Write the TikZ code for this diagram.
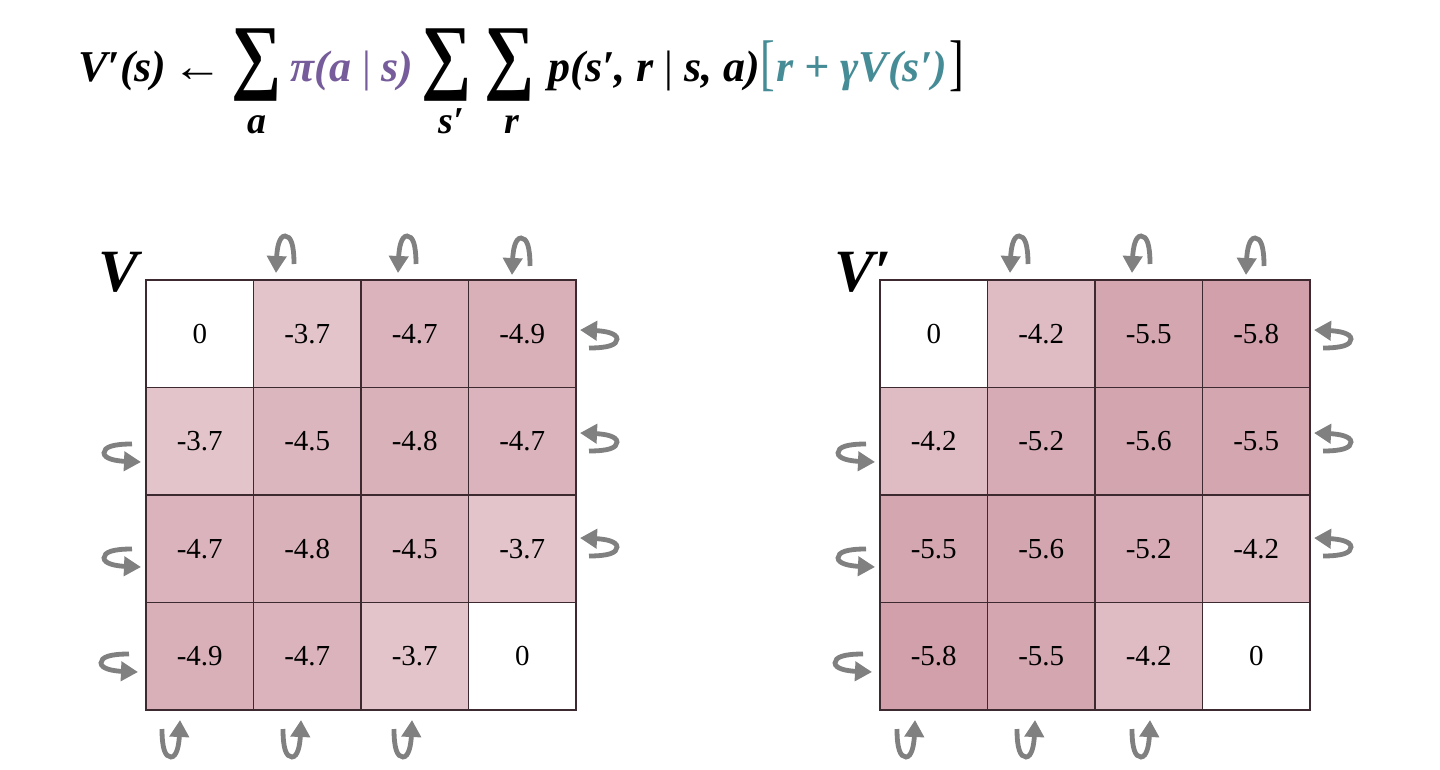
\documentclass[tikz,border=0pt]{standalone}
\usepackage{fontspec}
\setmainfont{Liberation Serif}
\usepackage{graphicx}
\usetikzlibrary{arrows.meta, positioning}

\definecolor{cellpink}{RGB}{190,120,135}
\definecolor{gridline}{RGB}{60,42,48}
\definecolor{arrowgray}{RGB}{128,128,128}
\definecolor{eqpurple}{RGB}{118,92,155}
\definecolor{eqteal}{RGB}{70,140,150}

\begin{document}
\begin{tikzpicture}[
    x=0.5pt, y=-0.5pt,
    eq/.style={
        font=\fontsize{22}{26}\selectfont\bfseries\itshape,
        inner sep=0pt,
        anchor=base west
    },
    sub/.style={
        font=\fontsize{19}{22}\selectfont\bfseries\itshape,
        inner sep=0pt,
        anchor=base
    },
    sumsym/.style={
        font=\fontsize{44}{44}\selectfont\bfseries,
        inner sep=0pt
    },
    title/.style={
        font=\fontsize{30}{32}\selectfont\bfseries\itshape,
        inner sep=0pt,
        anchor=base west
    },
    cell/.style={
        draw=gridline,
        line width=0.7pt,
        minimum size=53.75pt,
        inner sep=0pt,
        font=\fontsize{14.5}{16}\selectfont
    },
    bounceline/.style={
        draw=arrowgray,
        line width=2.4pt,
        -{Triangle[width=9.5pt,length=8.5pt]}
    },
    bounce/.pic={
        \draw[bounceline] (18,-9) .. controls (18,-28) and (15,-37) .. (9,-37)
            .. controls (3,-37) and (1,-24) .. (0,0);
    }
]
\fill[white] (0,0) rectangle (1440,770);
\useasboundingbox (0,0) rectangle (1440,770);

% Update rule
\node[eq] (lhs) at (78,82) {V′(s)};
\node[eq] (assign) at (172,82) {\scalebox{1.15}[1]{←}};
\node[sumsym] (sumA) at (257,65) {\scalebox{0.8}[0.95]{∑}};
\node[sub] (subA) at (257,134) {a};
\node[eq, text=eqpurple] (policy) at (290,82) {π(a {\upshape\mdseries|} s)};
\node[sumsym] (sumS) at (447,65) {\scalebox{0.8}[0.95]{∑}};
\node[sub] (subS) at (451,134) {s′};
\node[sumsym] (sumR) at (510,65) {\scalebox{0.8}[0.95]{∑}};
\node[sub] (subR) at (512,134) {r};
\node[eq] (model) at (548,82) {p(s′, r {\upshape\mdseries|} s, a)};
\node[eq, text=eqteal] (lbrack) at (760,84) {\upshape\mdseries\scalebox{1}[1.4]{[}};
\node[eq, text=eqteal] (target) at (776,82) {r + γV(s′)};
\node[eq] (rbrack) at (949,84) {\upshape\mdseries\scalebox{1}[1.4]{]}};

% Old values
\begin{scope}[shift={(146,280)}]
\node[title] (Vold) at (-48,12) {V};
\foreach \v [count=\k from 0] in {0,-3.7,-4.7,-4.9,-3.7,-4.5,-4.8,-4.7,-4.7,-4.8,-4.5,-3.7,-4.9,-4.7,-3.7,0} {
    \pgfmathtruncatemacro\row{int(\k/4)}
    \pgfmathtruncatemacro\col{mod(\k,4)}
    \pgfmathtruncatemacro\shade{round(12*abs(\v))}
    \node[cell, fill=cellpink!\shade!white] (old-\row-\col) at ({53.75+107.5*\col},{53.75+107.5*\row}) {\v};
}
\foreach \x/\y in {130/-7, 252/-7, 366/-5}
    \pic at (\x,\y) {bounce};
\foreach \x/\y in {434/50, 434/153, 434/258}
    \pic[rotate=-90] at (\x,\y) {bounce};
\foreach \x/\y in {-5/182, -5/287, -8/392}
    \pic[rotate=90] at (\x,\y) {bounce};
\foreach \x/\y in {34/440, 155/440, 266/440}
    \pic[rotate=180] at (\x,\y) {bounce};
\end{scope}

% New values
\begin{scope}[shift={(880,280)}]
\node[title] (Vnew) at (-46,12) {V′};
\foreach \v [count=\k from 0] in {0,-4.2,-5.5,-5.8,-4.2,-5.2,-5.6,-5.5,-5.5,-5.6,-5.2,-4.2,-5.8,-5.5,-4.2,0} {
    \pgfmathtruncatemacro\row{int(\k/4)}
    \pgfmathtruncatemacro\col{mod(\k,4)}
    \pgfmathtruncatemacro\shade{round(12*abs(\v))}
    \node[cell, fill=cellpink!\shade!white] (new-\row-\col) at ({53.75+107.5*\col},{53.75+107.5*\row}) {\v};
}
\foreach \x/\y in {130/-7, 252/-7, 366/-5}
    \pic at (\x,\y) {bounce};
\foreach \x/\y in {434/50, 434/153, 434/258}
    \pic[rotate=-90] at (\x,\y) {bounce};
\foreach \x/\y in {-5/182, -5/287, -8/392}
    \pic[rotate=90] at (\x,\y) {bounce};
\foreach \x/\y in {35/440, 155/440, 270/440}
    \pic[rotate=180] at (\x,\y) {bounce};
\end{scope}

\end{tikzpicture}
\end{document}
